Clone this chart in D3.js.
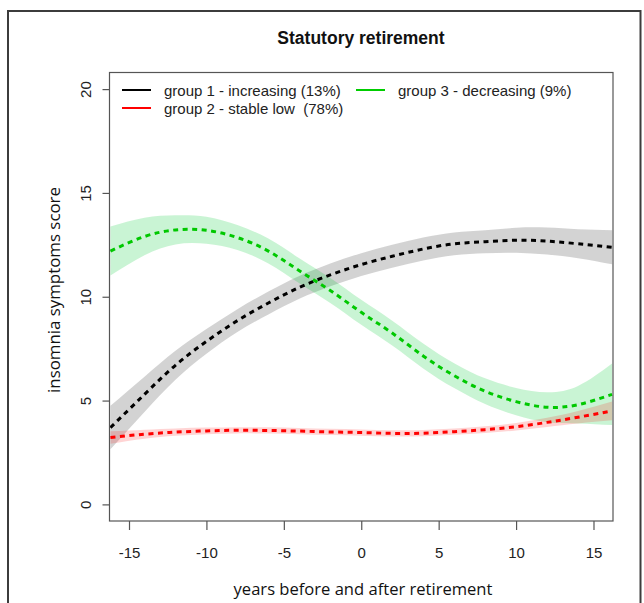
<!DOCTYPE html>
<html>
<head>
<meta charset="utf-8">
<script src="https://cdn.jsdelivr.net/npm/d3@7"></script>
<style>
  html, body { margin: 0; padding: 0; background: #fff; }
  svg { display: block; }
</style>
</head>
<body>
<svg id="chart" width="644" height="603"></svg>
<script>
// ---- data ----
const years = [-16.2, -14, -12, -10, -8, -6, -4, -2, 0, 2, 4, 6, 8, 10, 12, 14, 16.2];

const group1Mean = [3.7, 5.3, 6.7, 7.85, 8.85, 9.7, 10.45, 11.05, 11.55, 11.95, 12.3, 12.55, 12.65, 12.72, 12.68, 12.55, 12.38];
const group1Half = [1.05, 0.85, 0.7, 0.6, 0.55, 0.55, 0.55, 0.55, 0.55, 0.55, 0.55, 0.55, 0.55, 0.6, 0.65, 0.7, 0.82];

const group2Mean = [3.22, 3.38, 3.48, 3.54, 3.57, 3.56, 3.53, 3.49, 3.46, 3.42, 3.43, 3.5, 3.6, 3.74, 3.95, 4.2, 4.5];
const group2Half = [0.3, 0.22, 0.18, 0.16, 0.15, 0.15, 0.15, 0.15, 0.15, 0.15, 0.15, 0.15, 0.16, 0.18, 0.22, 0.3, 0.45];

const group3Mean = [12.2, 12.9, 13.22, 13.2, 12.85, 12.2, 11.25, 10.3, 9.25, 8.25, 7.15, 6.2, 5.45, 4.95, 4.68, 4.8, 5.3];
const group3Half = [1.18, 0.9, 0.7, 0.65, 0.6, 0.6, 0.6, 0.6, 0.6, 0.6, 0.6, 0.6, 0.62, 0.66, 0.72, 0.9, 1.48];

const seriesNames = ["group 1 - increasing (13%)", "group 2 - stable low  (78%)", "group 3 - decreasing (9%)"];
const xTicks = [-15, -10, -5, 0, 5, 10, 15];
const yTicks = [0, 5, 10, 15, 20];
const chartTitle = "Statutory retirement";
const xTitle = "years before and after retirement";
const yTitle = "insomnia symptoms score";

// ---- layout ----
const svg = d3.select("#chart");
const box = { left: 109.5, right: 613, top: 72.5, bottom: 521 };
const x = d3.scaleLinear().domain([-16.26, 16.26]).range([box.left, box.right]);
const y = d3.scaleLinear().domain([-0.8, 20.8]).range([box.bottom, box.top]);
const plainNum = d => String(d);

// outer frame
svg.append("rect")
  .attr("x", 8).attr("y", 11).attr("width", 632.5).attr("height", 620)
  .attr("fill", "none").attr("stroke", "#3c3c3c").attr("stroke-width", 2);

// title
svg.append("text")
  .attr("x", 361).attr("y", 43.5)
  .attr("text-anchor", "middle")
  .style("font-family", "'Liberation Sans', Arial, sans-serif")
  .style("font-weight", "bold")
  .style("font-size", "17.5px")
  .attr("fill", "#111")
  .text(chartTitle);

// clip
svg.append("clipPath").attr("id", "plotclip")
  .append("rect")
  .attr("x", box.left).attr("y", box.top)
  .attr("width", box.right - box.left).attr("height", box.bottom - box.top);

const plot = svg.append("g").attr("clip-path", "url(#plotclip)");

const series = [
  { mean: group1Mean, half: group1Half, line: "#000000", fill: "#8c8c8c", fillOp: 0.38 },
  { mean: group3Mean, half: group3Half, line: "#00c800", fill: "#00cd33", fillOp: 0.21 },
  { mean: group2Mean, half: group2Half, line: "#ff0000", fill: "#ff0000", fillOp: 0.17 }
];

const area = d3.area().curve(d3.curveNatural)
  .x(d => x(d.x)).y0(d => y(d.lo)).y1(d => y(d.hi));
const line = d3.line().curve(d3.curveNatural)
  .x(d => x(d.x)).y(d => y(d.m));

series.forEach(s => {
  const pts = years.map((v, i) => ({ x: v, m: s.mean[i], lo: s.mean[i] - s.half[i], hi: s.mean[i] + s.half[i] }));
  plot.append("path").datum(pts).attr("d", area)
    .attr("fill", s.fill).attr("fill-opacity", s.fillOp).attr("stroke", "none");
});
series.forEach(s => {
  const pts = years.map((v, i) => ({ x: v, m: s.mean[i] }));
  plot.append("path").datum(pts).attr("d", line)
    .attr("fill", "none").attr("stroke", s.line).attr("stroke-width", 3)
    .attr("stroke-dasharray", "5,4.5");
});

// plot box
svg.append("rect")
  .attr("x", box.left).attr("y", box.top)
  .attr("width", box.right - box.left).attr("height", box.bottom - box.top)
  .attr("fill", "none").attr("stroke", "#555").attr("stroke-width", 1.2);

// x axis
const xAxis = d3.axisBottom(x).tickValues(xTicks).tickSize(9).tickPadding(4)
  .tickFormat(plainNum);
const gx = svg.append("g").attr("transform", `translate(0,${box.bottom})`).call(xAxis);
gx.select(".domain").remove();
gx.selectAll(".tick line").attr("stroke", "#555").attr("stroke-width", 1.2);
gx.selectAll(".tick text")
  .attr("y", 0).attr("dy", null)
  .attr("transform", "translate(0,37)")
  .style("font-family", "'Liberation Sans', Arial, sans-serif")
  .style("font-size", "15px").attr("fill", "#222");

// y axis
const yAxis = d3.axisLeft(y).tickValues(yTicks).tickSize(7).tickFormat(plainNum);
const gy = svg.append("g").attr("transform", `translate(${box.left},0)`).call(yAxis);
gy.select(".domain").remove();
gy.selectAll(".tick line").attr("stroke", "#555").attr("stroke-width", 1.2);
gy.selectAll(".tick text")
  .attr("x", 0).attr("dy", null).attr("y", 0)
  .attr("text-anchor", "middle")
  .attr("transform", "translate(-19,0) rotate(-90)")
  .style("font-family", "'Liberation Sans', Arial, sans-serif")
  .style("font-size", "15px").attr("fill", "#222");

// axis titles (fit to measured widths)
function fitText(sel, target) {
  const w = sel.node().getComputedTextLength();
  const fs = parseFloat(sel.style("font-size"));
  sel.style("font-size", (fs * target / w).toFixed(2) + "px");
}
const xt = svg.append("text")
  .attr("x", 363).attr("y", 588).attr("text-anchor", "middle")
  .attr("dominant-baseline", "central")
  .style("font-family", "'Open Sans', sans-serif").style("font-size", "16px")
  .attr("fill", "#111").text(xTitle);
fitText(xt, 259);
const yt = svg.append("text")
  .attr("transform", "translate(53.5,290) rotate(-90)")
  .attr("text-anchor", "middle").attr("dominant-baseline", "central")
  .style("font-family", "'Open Sans', sans-serif").style("font-size", "16px")
  .attr("fill", "#111").text(yTitle);
fitText(yt, 206);

// legend
const legendItems = [
  { name: seriesNames[0], color: "#000000", x: 122, y: 96 },
  { name: seriesNames[1], color: "#ff0000", x: 122, y: 114 },
  { name: seriesNames[2], color: "#00cd00", x: 356, y: 96 }
];
const lg = svg.append("g");
legendItems.forEach(it => {
  lg.append("line")
    .attr("x1", it.x).attr("x2", it.x + 29)
    .attr("y1", it.y - 6).attr("y2", it.y - 6)
    .attr("stroke", it.color).attr("stroke-width", 2);
  lg.append("text")
    .attr("x", it.x + 42).attr("y", it.y)
    .style("font-family", "'Liberation Sans', Arial, sans-serif")
    .style("font-size", "15px").attr("fill", "#222")
    .style("white-space", "pre").attr("xml:space", "preserve")
    .text(it.name);
});
</script>
</body>
</html>
